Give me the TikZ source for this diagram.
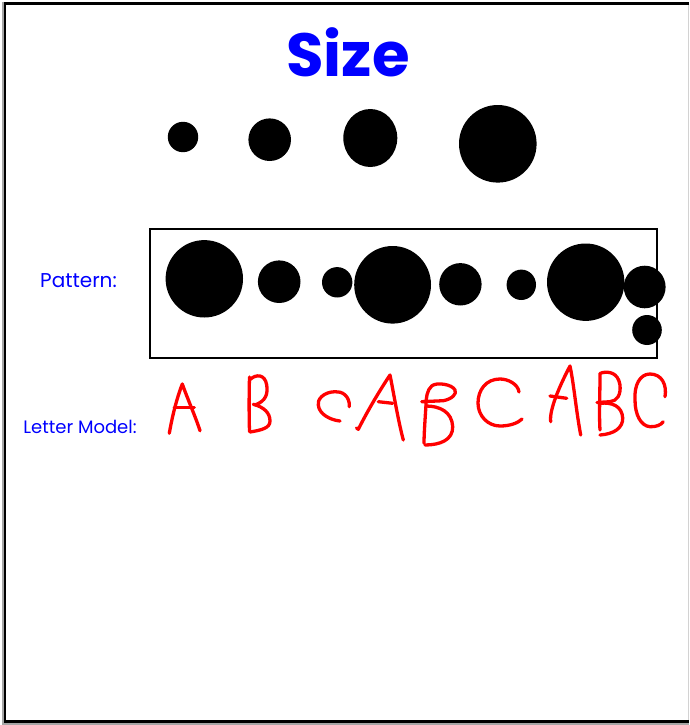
\documentclass[tikz,border=0pt]{standalone}
\usepackage{fontspec}
\setmainfont{Poppins}
\newfontfamily\labelfont{Poppins}
\definecolor{titleblue}{RGB}{0,0,255}
\definecolor{penred}{RGB}{255,0,0}
\begin{document}
\begin{tikzpicture}[x=1pt,y=-1pt,
  dot/.style={fill=black},
  pen/.style={draw=penred,line width=3.3,line cap=round,line join=round},
  lbl/.style={text=titleblue,inner sep=0pt,font=\labelfont\fontsize{20}{23}\selectfont}]
\useasboundingbox (0,0) rectangle (689,725);
\fill[white] (0,0) rectangle (689,725);
% frame
\draw[gray!35,line width=0.8] (688,2) -- (688,724);
\draw[gray!70,line width=1.5] (3,2) -- (3,724) -- (689,724);
\draw[black,line width=2.5] (689,3.5) -- (5,3.5) -- (5,721.5) -- (689,721.5);
% title
\node[text=titleblue,inner sep=0pt,font=\bfseries\fontsize{61}{63}\selectfont] (title) at (348,52) {Size};
% top circles
\fill[dot] (183,137) circle (15.2);
\fill[dot] (269.7,139.7) circle (21.3);
\fill[dot] (370.3,138) ellipse (27 and 29);
\fill[dot] (497.8,143.8) circle (38.8);
% pattern box
\node[draw=black,line width=2,minimum width=507,minimum height=128.5,inner sep=0pt] (box) at (403.2,293.5) {};
\node[lbl] (pattern) at (78.5,281) {Pattern:};
\fill[dot] (204.3,278.8) circle (38.7);
\fill[dot] (279.2,281.7) circle (21.3);
\fill[dot] (337.2,282.3) circle (15.2);
\fill[dot] (392.6,284.8) ellipse (38.4 and 38.8);
\fill[dot] (460.4,284.3) circle (21.2);
\fill[dot] (521.3,284.8) ellipse (14.7 and 15.2);
\fill[dot] (585.7,282.2) circle (38.7);
\fill[dot] (644.7,287) ellipse (20.9 and 21.3);
\fill[dot] (647,330) ellipse (14.8 and 15);
% letter model
\node[lbl,font=\labelfont\fontsize{18}{21}\selectfont] (letters) at (80,426.5) {Letter Model:};
% A
\draw[pen] (169.3,433.3) .. controls (173,412) and (178,395) .. (182.3,384) .. controls (188,400) and (196,418) .. (200,430.7);
\draw[pen] (174.3,407.7) -- (194.3,407.7);
% B
\draw[pen] (249.5,377) .. controls (249,395) and (249,415) .. (249.5,431.5);
\draw[pen] (250.3,379.3) .. controls (256,374) and (265,374) .. (266.7,385) .. controls (268,394) and (266,401) .. (255,405);
\draw[pen] (253.3,404.3) .. controls (264,407) and (270,413) .. (270,421) .. controls (270,428) and (262,430) .. (250,432);
% c
\draw[pen] (349.3,406.7) .. controls (350,396) and (342,391) .. (335,391.7) .. controls (323,392) and (317,400) .. (318.3,405) .. controls (319,414) and (330,420) .. (340,421);
% A2
\draw[pen] (356.5,428) -- (358.3,429.3) .. controls (368,410) and (380,390) .. (390,375) .. controls (394,395) and (398,420) .. (403.3,440);
\draw[pen] (378.3,401.7) -- (392.7,403.3);
% B2
\draw[pen] (421.7,401.7) -- (443.3,400.7) .. controls (452,399) and (457,394) .. (455,390) .. controls (452,384) and (436,382) .. (431.7,386) .. controls (427,390) and (426,398) .. (426,405) .. controls (425,420) and (424,435) .. (424,443.3);
\draw[pen] (426,406) .. controls (440,406) and (452,412) .. (452.7,426.7) .. controls (453,440) and (440,445) .. (425,445);
% C
\draw[pen] (519,392) .. controls (518,384) and (508,379) .. (500,379) .. controls (486,379) and (478,390) .. (478,403) .. controls (478,416) and (488,426) .. (500,426) .. controls (510,426) and (518,423) .. (522,419);
% A3
\draw[pen] (550.7,421.7) .. controls (549,410) and (560,385) .. (570,366) .. controls (574,385) and (576,410) .. (580.7,435);
\draw[pen] (550,396) -- (566.7,398.3);
% B3
\draw[pen] (600,373.3) .. controls (600,395) and (599,415) .. (600,430);
\draw[pen] (601,373) .. controls (608,371) and (618,372) .. (620,385) .. controls (621,395) and (617,401) .. (610,401.7) -- (597,402.5);
\draw[pen] (600,403.3) .. controls (612,402) and (622,406) .. (622.7,418) .. controls (623,428) and (614,434) .. (600,435);
% C3
\draw[pen] (665,396.7) .. controls (667,385) and (662,374) .. (650,374) .. controls (640,374) and (634,385) .. (635,400) .. controls (635,415) and (641,426) .. (650,426.7) .. controls (656,427) and (661,425) .. (663.3,421.7);
\end{tikzpicture}
\end{document}
